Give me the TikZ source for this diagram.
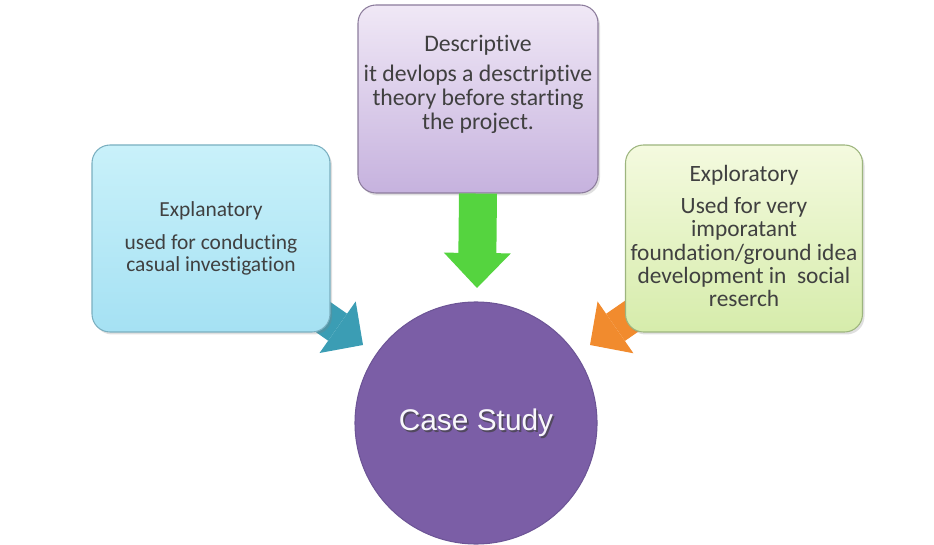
\documentclass[tikz,border=0pt]{standalone}
\usepackage{fontspec}
\setmainfont{Carlito}[Ligatures=NoCommon]
\newfontfamily\casefont{Liberation Sans}
\usetikzlibrary{arrows.meta,shadows,backgrounds}
\definecolor{expltop}{HTML}{C9F1FA}
\definecolor{explbot}{HTML}{A5E1F3}
\definecolor{explline}{HTML}{7AAFC0}
\definecolor{desctop}{HTML}{F0E8F6}
\definecolor{descbot}{HTML}{C6B2DE}
\definecolor{descline}{HTML}{8C7C9C}
\definecolor{explotop}{HTML}{F4FADF}
\definecolor{explobot}{HTML}{D6ECAB}
\definecolor{exploline}{HTML}{9DB57E}
\definecolor{casefill}{HTML}{7B5EA6}
\definecolor{caseline}{HTML}{6D5596}
\definecolor{greenarrow}{HTML}{55D43F}
\definecolor{tealarrow}{HTML}{3B9DB4}
\definecolor{orangearrow}{HTML}{F18B2E}
\definecolor{textgray}{HTML}{404040}
\begin{document}
\begin{tikzpicture}
[boxdecorate/.style={shape=rectangle,rounded corners=0.36cm,minimum width=4.76cm,minimum height=3.74cm,line width=0.6pt,%
   drop shadow={opacity=0.25,shadow xshift=0.04cm,shadow yshift=-0.05cm}},%
  textdecorate/.style={align=center,text=textgray,inner sep=0pt},%
  arrowdecorate/.style={line width=0.66cm,-{Triangle[width=1.26cm,length=0.62cm,line width=0pt]}}]
\useasboundingbox (0,0) rectangle (18.68,10.88);
% boxes
\node (expl) at (4.22,6.11) [boxdecorate,top color=expltop,bottom color=explbot,draw=explline] {};
\node (desc) at (9.56,8.90) [boxdecorate,minimum width=4.8cm,minimum height=3.76cm,top color=desctop,bottom color=descbot,draw=descline] {};
\node (explo) at (14.88,6.11) [boxdecorate,minimum width=4.74cm,top color=explotop,bottom color=explobot,draw=exploline] {};
% texts
\node (expltext) at (expl.center) [textdecorate,font=\fontsize{12.2}{12.8}\selectfont]
  {Explanatory\\[6pt] used for conducting\\ casual investigation};
\node (desctext) at ([yshift=0.29cm]desc.center) [textdecorate,font=\fontsize{13.5}{13.6}\selectfont]
  {Descriptive\\[3.5pt] it devlops a desctriptive\\ theory before starting\\ the project.};
\node (explotext) at ([yshift=0.05cm]explo.center) [textdecorate,font=\fontsize{13.3}{13.2}\selectfont]
  {Exploratory\\[5pt] Used for very\\ imporatant\\ foundation/ground idea\\ development in~ social\\ reserch};
% centre
\node (case) at (9.52,2.42) [shape=circle,minimum size=4.84cm,fill=casefill,draw=caseline,line width=0.6pt] {};
\node (caseshadow) at ([shift={(0.035,-0.035)}]case.center) [text=black!75,opacity=0.7,font=\casefont\fontsize{17}{20}\selectfont] {Case Study};
\node (casetext) at (case.center) [text=white!95!casefill,font=\casefont\fontsize{17}{20}\selectfont] {Case Study};
% arrows
\coordinate (expltip) at (7.26,3.98);
\coordinate (descTip) at (9.54,5.12);
\coordinate (explotip) at (11.80,3.98);
\begin{scope}[on background layer]
\draw[arrowdecorate,tealarrow] (expl.center) -- (expltip);
\draw[arrowdecorate,orangearrow] (explo.center) -- (explotip);
\end{scope}
\draw[arrowdecorate,greenarrow,line width=0.76cm,-{Triangle[width=1.34cm,length=0.7cm,line width=0pt]}] (desc.south) -- (descTip);
\end{tikzpicture}
\end{document}
